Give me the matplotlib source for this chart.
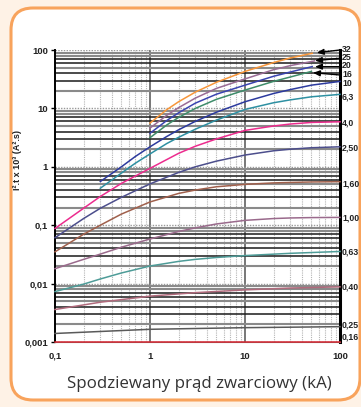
"""
Charakterystyka I2t - energia przenoszona vs spodziewany prad zwarciowy
"""

import matplotlib.pyplot as plt
import matplotlib.patches as patches

# --- dane (kA, I2t x 10^3 A2s) ---
ratings = ['32', '25', '20', '16', '10', '6,3', '4,0', '2,50',
           '1,60', '1,00', '0,63', '0,40', '0,25', '0,16']

x_32 = [1, 1.5, 2, 3, 5, 10, 20, 30, 51]
y_32 = [5.6, 9.5, 13, 19, 28, 43, 61, 73, 88]

x_25 = [1, 1.5, 2, 3, 5, 10, 20, 30, 54]
y_25 = [4.6, 7.6, 10.3, 15, 22, 32, 46, 54, 65]

x_20 = [1, 1.5, 2, 3, 5, 10, 20, 30, 51]
y_20 = [3.75, 6.2, 8.4, 12.3, 17.5, 25, 35.5, 42, 52]

x_16 = [1, 1.5, 2, 3, 5, 10, 20, 30, 50]
y_16 = [3.15, 5.2, 7, 10, 14.3, 20.6, 29, 34.5, 43]

x_10 = [0.3, 0.5, 0.7, 1, 1.5, 2, 3, 5, 10, 20, 30, 50, 100]
y_10 = [0.56, 1.0, 1.5, 2.2, 3.3, 4.3, 6, 8.6, 13, 18, 21, 25, 29]

x_6_3 = [0.3, 0.5, 0.7, 1, 1.5, 2, 3, 5, 10, 20, 30, 50, 100]
y_6_3 = [0.43, 0.78, 1.15, 1.66, 2.5, 3.2, 4.4, 6.3, 9.6, 12.5, 14, 15.8, 17.4]

x_4_0 = [0.1, 0.2, 0.3, 0.5, 1, 2, 3, 5, 10, 20, 30, 50, 100]
y_4_0 = [0.088, 0.195, 0.31, 0.52, 0.94, 1.7, 2.25, 3.0, 4.2, 5.0, 5.4, 5.75, 5.9]

x_2_50 = [0.1, 0.2, 0.3, 0.5, 1, 2, 3, 5, 10, 20, 30, 50, 100]
y_2_50 = [0.061, 0.13, 0.195, 0.3, 0.51, 0.8, 1.0, 1.25, 1.59, 1.88, 2.0, 2.12, 2.2]

x_1_60 = [0.1, 0.2, 0.3, 0.5, 1, 2, 3, 5, 10, 20, 30, 50, 100]
y_1_60 = [0.035, 0.07, 0.1, 0.155, 0.25, 0.35, 0.40, 0.455, 0.50, 0.53, 0.54, 0.55, 0.556]

x_1_00 = [0.1, 0.2, 0.3, 0.5, 1, 2, 3, 5, 10, 20, 30, 50, 100]
y_1_00 = [0.018, 0.026, 0.032, 0.042, 0.058, 0.078, 0.09, 0.105, 0.121, 0.13, 0.133, 0.135, 0.136]

x_0_63 = [0.1, 0.2, 0.3, 0.5, 1, 2, 3, 5, 10, 30, 100]
y_0_63 = [0.0073, 0.0098, 0.012, 0.0152, 0.02, 0.024, 0.026, 0.028, 0.0302, 0.033, 0.0355]

x_0_40 = [0.1, 0.3, 1, 3, 10, 30, 100]
y_0_40 = [0.0036, 0.0048, 0.0061, 0.007, 0.0078, 0.0084, 0.0088]

x_0_25 = [0.1, 1, 10, 100]
y_0_25 = [0.0014, 0.00165, 0.00176, 0.00183]

x_0_16 = [0.1, 100]
y_0_16 = [0.001, 0.001]

# polozenie etykiet po prawej stronie (wartosc na osi Y)
label_y = [104, 74.5, 53.8, 37.8, 27.2, 15.7, 5.6, 2.07,
           0.507, 0.133, 0.0348, 0.00875, 0.00198, 0.00122]

x_ticks = [0.1, 1, 10, 100]
x_ticklabels = ['0,1', '1', '10', '100']
y_ticks = [0.001, 0.01, 0.1, 1, 10, 100]
y_ticklabels = ['0,001', '0,01', '0,1', '1', '10', '100']

curves = [
    (x_32, y_32, '#F7963A'),
    (x_25, y_25, '#9A6C96'),
    (x_20, y_20, '#3A44B0'),
    (x_16, y_16, '#3E8C6A'),
    (x_10, y_10, '#2C3A9E'),
    (x_6_3, y_6_3, '#2E90A2'),
    (x_4_0, y_4_0, '#EC2C8E'),
    (x_2_50, y_2_50, '#4C4E8C'),
    (x_1_60, y_1_60, '#A0604C'),
    (x_1_00, y_1_00, '#9A6A8C'),
    (x_0_63, y_0_63, '#4E9C98'),
    (x_0_40, y_0_40, '#B06A7C'),
    (x_0_25, y_0_25, '#5A5A5A'),
    (x_0_16, y_0_16, '#D52530'),
]

# strzalki dla 32/25/20/16: (ogon, grot)
arrows = [
    ((100, 100), (57, 90)),
    ((100, 72.1), (54.6, 65.6)),
    ((100, 51.8), (54.6, 51.8)),
    ((101, 37.3), (52, 40.8)),
]

W, H = 361, 407
fig = plt.figure(figsize=(W / 100, H / 100), dpi=100)
fig.patch.set_facecolor('#FEF2E6')

# tlo - zaokraglona ramka
bg = fig.add_axes([0, 0, 1, 1])
bg.set_xlim(0, W)
bg.set_ylim(H, 0)
bg.axis('off')
frame = patches.FancyBboxPatch((11, 8), 349, 392,
                               boxstyle='round,pad=0,rounding_size=22',
                               facecolor='white', edgecolor='#F8A35C',
                               linewidth=2.2)
bg.add_patch(frame)

ax = fig.add_axes([55 / W, 65 / H, 285 / W, 292 / H])
ax.set_xscale('log')
ax.set_yscale('log')
ax.set_xlim(0.1, 100)
ax.set_ylim(0.001, 100)
ax.set_facecolor('none')

# siatka pionowa
for dec in [0.1, 1, 10]:
    for m in range(2, 10):
        ax.axvline(dec * m, color='#b5b5b5', lw=0.8, ls=(0, (1, 1)), zorder=1)
ax.axvline(1, color='#777777', lw=1.4, zorder=1)
ax.axvline(10, color='#777777', lw=1.4, zorder=1)

# siatka pozioma
minor_colors = {2: '#8a8a8a', 3: '#1a1a1a', 4: '#1a1a1a', 5: '#8a8a8a',
                6: '#1a1a1a', 7: '#1a1a1a', 8: '#8a8a8a', 9: '#8a8a8a'}
for dec in [0.001, 0.01, 0.1, 1, 10]:
    ax.axhline(dec, color='#999999', lw=1.0, ls=(0, (1, 1)), zorder=1)
    for m in range(2, 10):
        c = minor_colors[m]
        ax.axhline(dec * m, color=c, lw=1.5 if c != '#1a1a1a' else 1.1, zorder=1)
ax.axhline(100, color='#999999', lw=1.0, ls=(0, (1, 1)), zorder=1)

for xs, ys, col in curves:
    ax.plot(xs, ys, color=col, lw=1.1, zorder=3, clip_on=False)

for (tx, ty), (hx, hy) in arrows:
    ax.annotate('', xy=(hx, hy), xytext=(tx, ty), xycoords='data',
                arrowprops=dict(arrowstyle='-|>,head_length=0.4,head_width=0.17',
                                color='black', lw=1.0, shrinkA=0, shrinkB=0),
                annotation_clip=False, zorder=5)

for lab, yv in zip(ratings, label_y):
    ax.annotate(lab, xy=(1, yv), xycoords=('axes fraction', 'data'),
                xytext=(1.5, 0), textcoords='offset points',
                ha='left', va='center', fontsize=6.3, fontweight='bold',
                family='Liberation Sans', color='#222222',
                annotation_clip=False)

ax.set_xticks(x_ticks)
ax.set_xticklabels(x_ticklabels)
ax.set_yticks(y_ticks)
ax.set_yticklabels(y_ticklabels)
ax.minorticks_off()
ax.tick_params(axis='x', length=0, pad=7, labelsize=6.8)
ax.tick_params(axis='y', length=3, width=1, pad=2, labelsize=6.8)
for lab in ax.get_xticklabels() + ax.get_yticklabels():
    lab.set_fontweight('bold')
    lab.set_family('Liberation Sans')
    lab.set_color('#222222')

ax.spines['left'].set_linewidth(1.4)
ax.spines['right'].set_linewidth(2.2)
ax.spines['top'].set_visible(False)
ax.spines['bottom'].set_color('#777777')

fig.text(17 / W, 1 - 160 / H, 'I².t x 10³ (A².s)', rotation=90,
         ha='center', va='center', fontsize=6.5, fontweight='bold',
         family='Liberation Sans', color='#222222')
fig.text(199 / W, 1 - 384 / H, 'Spodziewany prąd zwarciowy (kA)',
         ha='center', va='center', fontsize=12.2, family='Open Sans',
         color='#333333')

fig.savefig('out.png', dpi=100)
